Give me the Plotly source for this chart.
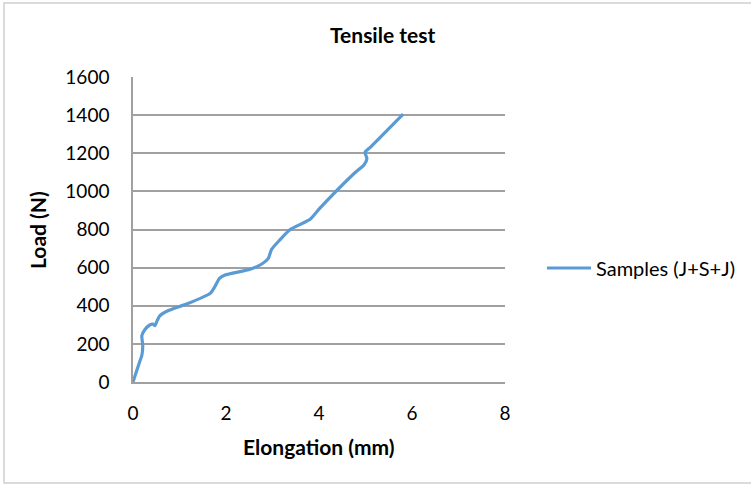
import plotly.graph_objects as go

# Tensile test record: elongation (mm) vs load (N)
elongation_mm = [0, 0.07, 0.14, 0.19, 0.21, 0.19, 0.25, 0.36, 0.43, 0.47, 0.52, 0.58,
                 0.75, 1.15, 1.66, 1.76, 1.86, 1.98, 2.52, 2.77, 2.91, 2.98, 3.16,
                 3.38, 3.81, 4.02, 4.76, 4.97, 5.03, 4.99, 5.12, 5.81]
load_n = [0, 52, 104, 139, 191, 243, 273, 299, 304, 296, 322, 348,
          374, 409, 465, 500, 544, 561, 591, 619, 649, 696, 746,
          800, 854, 912, 1095, 1140, 1172, 1205, 1235, 1405]
series_name = "Samples (J+S+J)"
x_ticks = [0, 2, 4, 6, 8]
y_ticks = [0, 200, 400, 600, 800, 1000, 1200, 1400, 1600]

W, H = 751, 485
L, R, T, B = 133, 246, 77, 103
FONT = "Lato"
GRID = "#a0a0a0"

fig = go.Figure()
fig.add_trace(go.Scatter(
    x=elongation_mm, y=load_n, mode="lines", name=series_name,
    line=dict(color="#5b9bd5", width=3.2, shape="spline", smoothing=0.6),
))

pw, ph = W - L - R, H - T - B

fig.update_layout(
    width=W, height=H,
    margin=dict(l=L, r=R, t=T, b=B, autoexpand=False),
    paper_bgcolor="white", plot_bgcolor="white",
    font=dict(family=FONT, size=19, color="#000000"),
    showlegend=True,
    legend=dict(x=(542 - L) / pw, y=(382 - 268) / ph, xanchor="left", yanchor="middle",
                font=dict(family=FONT, size=20), itemwidth=44,
                bgcolor="rgba(0,0,0,0)", tracegroupgap=0),
    xaxis=dict(range=[0, 8], tickvals=x_ticks, showgrid=False, zeroline=False,
               showline=True, linecolor=GRID, linewidth=1.5, ticks="",
               ticklabelstandoff=13, tickfont=dict(size=19)),
    yaxis=dict(range=[0, 1600], tickvals=y_ticks, showgrid=True, gridcolor=GRID,
               gridwidth=1.5, zeroline=False, showline=True, linecolor=GRID,
               linewidth=1.5, ticks="", ticklabelstandoff=18, tickfont=dict(size=19)),
    shapes=[dict(type="rect", xref="paper", yref="paper",
                 x0=(4 - L) / pw, x1=(760 - L) / pw,
                 y0=(H - 483 - B) / ph, y1=(H - 3 - B) / ph,
                 line=dict(color="#d0d0d0", width=1.5), layer="below")],
    annotations=[
        dict(text="<b>Tensile test</b>", xref="paper", yref="paper",
             x=(382 - L) / pw, y=(382 - 35) / ph, showarrow=False,
             xanchor="center", yanchor="middle", font=dict(family=FONT, size=21)),
        dict(text="<b>Elongation (mm)</b>", xref="paper", yref="paper",
             x=0.5, y=(382 - 446) / ph, showarrow=False,
             xanchor="center", yanchor="middle", font=dict(family=FONT, size=21)),
        dict(text="<b>Load (N)</b>", xref="paper", yref="paper",
             x=(37 - L) / pw, y=(382 - 230) / ph, showarrow=False, textangle=-90,
             xanchor="center", yanchor="middle", font=dict(family=FONT, size=21)),
    ],
)

fig.write_html("out.html")
